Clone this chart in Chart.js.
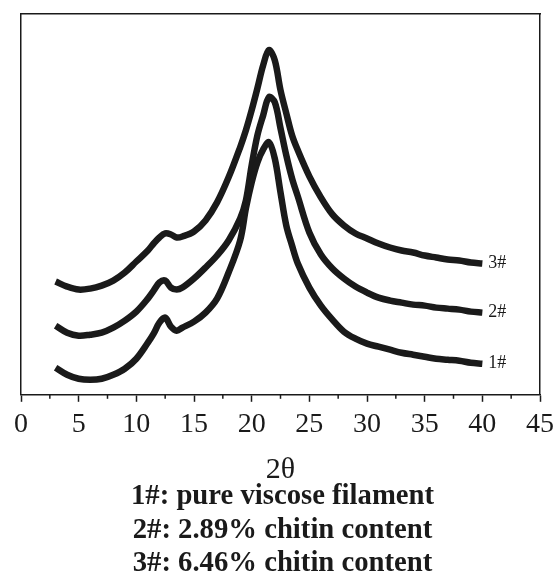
<!DOCTYPE html>
<html>
<head>
<meta charset="utf-8">
<script src="https://cdn.jsdelivr.net/npm/chart.js@4/dist/chart.umd.min.js"></script>
<style>
  html, body { margin: 0; padding: 0; background: #fff; }
  #wrap { width: 560px; height: 577px; }
</style>
</head>
<body>
<div id="wrap"><canvas id="c" width="560" height="577"></canvas></div>
<script>
const twoTheta = [3,4,5,6,7,8,9,10,11,11.5,12,12.5,13,13.5,14,15,16,17,18,19,19.5,20,20.5,21,21.5,22,22.5,23,23.5,24,25,26,27,28,29,30,31,32,33,34,35,36,37,38,39,40];
const sample1 = [27,20,16,15,16,20,26,36,52,61,72,77,68,64,67,73,82,96,122,154,186,212,232,245,252,236,202,169,149,131,107,89,75,63,56,51,48,45,42,40,38,36,35,34,32,31];
const sample2 = [69,62,59,60,62,67,74,83,96,104,112,114,107,105,107,116,127,139,154,176,194,229,259,279,297,292,266,239,216,198,162,140,126,116,108,102,97,94,92,90,89,87,86,85,83,82];
const sample3 = [113,108,105,106,109,114,122,133,144,151,157,161,160,157,158,163,174,192,217,247,264,284,306,329,344,334,304,281,259,244,218,197,180,169,161,156,151,147,144,142,139,137,135,134,132,131];
const seriesNames = ['1#', '2#', '3#'];
const xTicks = [0,5,10,15,20,25,30,35,40,45];
const legendLines = ['1#: pure viscose filament', '2#: 2.89% chitin content', '3#: 6.46% chitin content'];
const axisTitle = '2\u03b8';

const serif = "'Liberation Serif', 'DejaVu Serif', serif";
const ink = '#1a1a1a';

function pts(arr) { return twoTheta.map((x, i) => ({ x: x, y: arr[i] })); }

const ds = [sample1, sample2, sample3].map((arr, i) => ({
  label: seriesNames[i],
  data: pts(arr),
  borderColor: ink,
  borderWidth: 6.5,
  pointRadius: 0,
  tension: 0.35,
  fill: false
}));

const minorTicks = {
  id: 'minorTicks',
  afterDraw(chart) {
    const s = chart.scales.x;
    const ctx = chart.ctx;
    ctx.save();
    ctx.strokeStyle = ink;
    ctx.lineWidth = 1.5;
    for (let i = 0; i < xTicks.length - 1; i++) {
      const v = (xTicks[i] + xTicks[i + 1]) / 2;
      const px = s.getPixelForValue(v);
      ctx.beginPath();
      ctx.moveTo(px, s.top);
      ctx.lineTo(px, s.top + 4);
      ctx.stroke();
    }
    ctx.restore();
  }
};

const endLabels = {
  id: 'endLabels',
  afterDatasetsDraw(chart) {
    const ctx = chart.ctx;
    ctx.save();
    ctx.fillStyle = ink;
    ctx.font = "18px " + serif;
    ctx.textBaseline = 'middle';
    ctx.textAlign = 'left';
    chart.data.datasets.forEach((d, i) => {
      const meta = chart.getDatasetMeta(i);
      const p = meta.data[meta.data.length - 1];
      ctx.fillText(d.label, p.x + 6, p.y);
    });
    ctx.restore();
  }
};

new Chart(document.getElementById('c'), {
  type: 'line',
  data: { datasets: ds },
  options: {
    responsive: false,
    animation: false,
    layout: { padding: { left: 21, right: 16, top: 14, bottom: 0 } },
    plugins: {
      legend: { display: false },
      tooltip: { enabled: false },
      title: {
        display: true,
        position: 'bottom',
        text: legendLines,
        color: ink,
        font: { family: serif, size: 28.7, weight: 'bold', lineHeight: 1.18 },
        padding: { top: 0, bottom: -4 }
      }
    },
    scales: {
      x: {
        type: 'linear',
        min: 0, max: 45,
        afterBuildTicks(scale) { scale.ticks = xTicks.map(v => ({ value: v })); },
        grid: { display: true, drawOnChartArea: false, drawTicks: true, tickLength: 7, tickWidth: 1.5, tickColor: ink },
        border: { display: true, color: ink, width: 1.5 },
        ticks: { color: ink, padding: 6, font: { family: serif, size: 28 }, maxRotation: 0, autoSkip: false },
        title: { display: true, text: axisTitle, color: ink, font: { family: serif, size: 30, lineHeight: 0.8 }, padding: { top: 10.4, bottom: -2.4 } }
      },
      xTop: {
        type: 'linear', position: 'top', min: 0, max: 45,
        grid: { display: false, drawTicks: false },
        border: { display: true, color: ink, width: 1.5 },
        ticks: { display: false }
      },
      y: {
        type: 'linear', min: 0, max: 380,
        grid: { display: false, drawTicks: false },
        border: { display: true, color: ink, width: 1.5 },
        ticks: { display: false }
      },
      yRight: {
        type: 'linear', position: 'right', min: 0, max: 380,
        grid: { display: false, drawTicks: false },
        border: { display: true, color: ink, width: 1.5 },
        ticks: { display: false }
      }
    }
  },
  plugins: [minorTicks, endLabels]
});
</script>
</body>
</html>
